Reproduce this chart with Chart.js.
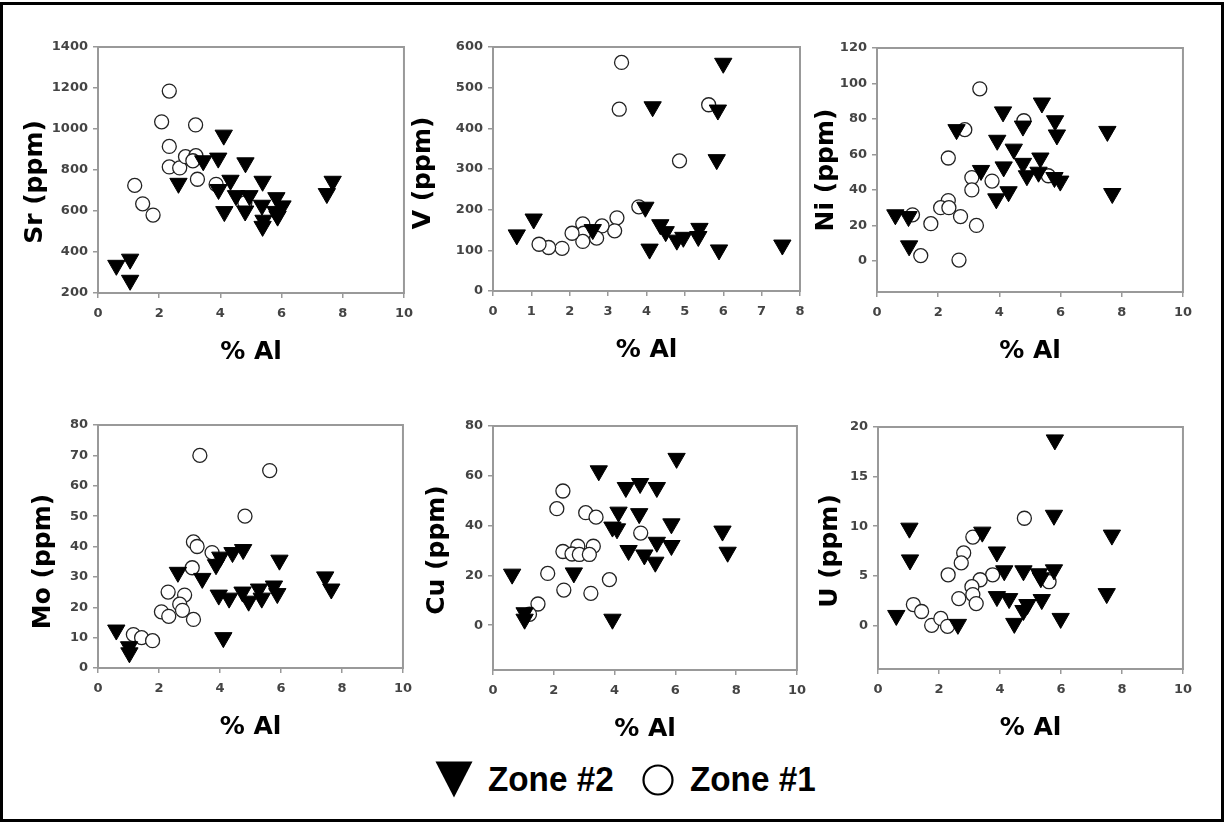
<!DOCTYPE html>
<html>
<head>
<meta charset="utf-8">
<title>Zone #1 / Zone #2 vs % Al</title>
<script src="https://cdn.jsdelivr.net/npm/chart.js@4.4.0/dist/chart.umd.min.js"></script>
<style>
  body { margin: 0; background: #fff; width: 1225px; height: 823px; overflow: hidden; position: relative; }
  #frame { position: absolute; left: 0; top: 2px; width: 1224px; height: 820px; border: 3px solid #000; box-sizing: border-box; }
  canvas { position: absolute; }
  .key { position: absolute; }
  .key span { position: absolute; white-space: nowrap; font: bold 35px 'Liberation Sans', Arial, sans-serif; color: #000; transform: scaleX(0.95); transform-origin: left center; line-height: 40px; }
</style>
</head>
<body>
<div id="frame"></div>

<canvas id="srChart"></canvas>
<canvas id="vChart"></canvas>
<canvas id="niChart"></canvas>
<canvas id="moChart"></canvas>
<canvas id="cuChart"></canvas>
<canvas id="uChart"></canvas>

<div class="key" style="left:435px; top:761px;">
  <svg width="38" height="37" style="position:absolute; left:0; top:0;"><polygon points="0.5,0.5 37.5,0.5 19,36.5" fill="#000"/></svg>
  <span style="left:53px; top:-2px;">Zone #2</span>
</div>
<div class="key" style="left:642px; top:764px;">
  <svg width="33" height="33" style="position:absolute; left:0; top:0;"><circle cx="16" cy="16" r="14.5" fill="#fff" stroke="#000" stroke-width="2.2"/></svg>
  <span style="left:48px; top:-5px;">Zone #1</span>
</div>

<script>
// [% Al, ppm] pairs, Zone #2 = filled triangles, Zone #1 = open circles
const srZone2 = [[0.6,335],[1.05,365],[1.05,262],[2.63,735],[3.44,845],[3.93,858],[4.11,970],[3.94,705],[4.13,597],[4.33,750],
  [4.51,675],[4.82,835],[4.95,675],[4.81,600],[5.38,745],[5.36,628],[5.41,555],[5.38,525],[5.83,665],[5.87,575],[6.03,625],
  [5.8,598],[7.48,685],[7.67,745]];
const srZone1 = [[2.33,1185],[2.08,1035],[3.19,1020],[2.33,915],[2.33,815],[2.67,810],[2.86,865],[3.2,870],[3.1,845],
  [3.25,755],[3.86,730],[1.2,725],[1.46,635],[1.8,580],[4.8,640]];

const vZone2 = [[0.62,138],[1.06,177],[2.6,151],[3.97,206],[4.16,453],[4.08,103],[4.36,163],[4.5,146],[4.79,125],[4.96,132],
  [5.38,154],[5.35,134],[5.83,323],[5.86,445],[6.0,560],[5.89,101],[7.54,113]];
const vZone1 = [[3.35,562],[3.29,447],[5.62,458],[4.86,320],[3.8,207],[3.23,180],[3.17,148],[2.84,160],[2.7,130],[2.34,165],
  [2.36,142],[2.34,122],[2.06,142],[1.8,105],[1.45,107],[1.2,115]];

const niZone2 = [[0.6,26],[1.03,25],[1.05,8.5],[2.6,74],[3.4,51],[3.93,68],[3.9,35],[4.12,84],[4.14,53],[4.3,39],[4.47,63],
  [4.77,76],[4.77,55],[4.9,48],[5.39,89],[5.34,58],[5.28,50],[5.82,79],[5.88,71],[5.8,47],[5.99,45],[7.53,73],[7.69,38]];
const niZone1 = [[3.36,97],[2.87,74],[2.33,58],[4.8,79],[3.1,47],[3.1,40],[3.76,45],[5.6,48],[2.33,34],[2.08,30],[2.35,30],
  [2.73,25],[3.25,20],[1.76,21],[1.16,26],[1.43,3],[2.68,0.5]];

const moZone2 = [[0.6,12.5],[1.02,7],[1.03,5],[2.62,31.5],[3.42,29.5],[3.87,34],[4.01,36.5],[3.96,24],[4.11,10],[4.3,23],
  [4.41,38],[4.76,39],[4.74,25],[4.94,22],[5.28,26],[5.37,23],[5.77,27],[5.88,24.5],[5.95,35.5],[7.45,30],[7.65,26]];
const moZone1 = [[3.34,70],[5.63,65],[4.82,50],[3.13,41.5],[3.25,40],[3.74,38],[3.09,33],[2.3,25],[2.84,24],[2.68,21],
  [2.08,18.5],[2.32,17],[2.77,19],[3.13,16],[1.16,11],[1.43,10],[1.79,9]];

const cuZone2 = [[0.63,20.5],[1.04,5],[1.04,2.4],[2.66,21],[3.48,62],[3.93,2.4],[3.93,39.4],[4.08,38.7],[4.13,45.4],[4.37,55.3],
  [4.46,30],[4.84,56.9],[4.81,44.8],[4.98,28.2],[5.39,55.3],[5.39,33.3],[5.34,25.3],[5.87,40.7],[5.87,32],[6.04,67],[7.55,37.8],
  [7.72,29.3]];
const cuZone1 = [[2.3,53.9],[2.1,46.8],[3.05,45.2],[3.39,43.4],[4.86,37],[2.3,29.6],[2.79,31.7],[3.3,31.7],[2.6,28.6],
  [2.84,28.4],[3.17,28.4],[1.8,20.8],[3.83,18.3],[2.33,14.1],[3.22,12.8],[1.48,8.5],[1.2,4.4]];

const uZone2 = [[0.6,1],[1.03,9.8],[1.05,6.6],[2.62,0.1],[3.42,9.4],[3.9,7.4],[3.9,2.9],[4.14,5.5],[4.3,2.7],[4.47,0.2],
  [4.77,5.5],[4.77,1.5],[4.9,2.1],[5.28,5.2],[5.34,4.8],[5.37,2.6],[5.77,5.6],[5.8,18.7],[5.77,11.1],[5.99,0.7],[7.5,3.2],
  [7.67,9.1]];
const uZone1 = [[4.8,10.8],[3.11,8.9],[2.81,7.3],[2.73,6.3],[2.3,5.1],[3.76,5.1],[3.35,4.6],[3.08,3.9],[3.11,3.1],[3.22,2.2],
  [2.65,2.7],[5.61,4.4],[1.16,2.1],[1.43,1.4],[1.76,0],[2.06,0.7],[2.28,-0.1]];

const xTitle = '% Al';
const zoneLabels = ['Zone #2', 'Zone #1'];

// plot-area box of each panel (left, top, right, bottom) and its axes
const panels = [
  { id: 'srChart', title: 'Sr (ppm)', box: [98, 47, 406, 293], xMax: 10, xStep: 2, yMin: 200, yMax: 1400, yStep: 200, titleGap: 63, titleShift: 12, zone2: srZone2, zone1: srZone1 },
  { id: 'vChart',  title: 'V (ppm)',  box: [493, 47, 800, 291], xMax: 8, xStep: 1, yMin: 0, yMax: 600, yStep: 100, titleGap: 70, titleShift: 4, zone2: vZone2, zone1: vZone1 },
  { id: 'niChart', title: 'Ni (ppm)', box: [877, 48, 1185, 292], xMax: 10, xStep: 2, yMin: -17.5, yMax: 120, yStep: 20, titleGap: 51, titleShift: 0, zone2: niZone2, zone1: niZone1 },
  { id: 'moChart', title: 'Mo (ppm)', box: [98, 425, 405, 668], xMax: 10, xStep: 2, yMin: 0, yMax: 80, yStep: 10, titleGap: 55, titleShift: 15, zone2: moZone2, zone1: moZone1 },
  { id: 'cuChart', title: 'Cu (ppm)', box: [493, 426, 799, 670], xMax: 10, xStep: 2, yMin: -18, yMax: 80, yStep: 20, titleGap: 56, titleShift: 2, zone2: cuZone2, zone1: cuZone1 },
  { id: 'uChart',  title: 'U (ppm)',  box: [878, 427, 1185, 669], xMax: 10, xStep: 2, yMin: -4.4, yMax: 20, yStep: 5, titleGap: 48, titleShift: 3, zone2: uZone2, zone1: uZone1 }
];

const AXIS_W = 90, AXIS_H = 75, PAD = 15;
const grey = '#999';
const titleFont = { family: "'DejaVu Sans', sans-serif", size: 25, weight: 'bold', lineHeight: 1.2 };
const tickFont = { family: "'DejaVu Sans', sans-serif", size: 13, weight: 'bold' };

const plotFrame = {
  id: 'plotFrame',
  beforeDatasetsDraw(chart) {
    const { ctx, chartArea: a } = chart;
    ctx.save();
    ctx.strokeStyle = grey;
    ctx.lineWidth = 2;
    ctx.strokeRect(a.left, a.top, a.right - a.left, a.bottom - a.top);
    ctx.restore();
  }
};

// rotated y title, placed a fixed distance left of the plot area
const yTitle = {
  id: 'yTitle',
  afterDraw(chart, args, opts) {
    const { ctx, chartArea: a } = chart;
    ctx.save();
    ctx.translate(a.left - opts.gap, (a.top + a.bottom) / 2 + opts.shift);
    ctx.rotate(-Math.PI / 2);
    ctx.font = `${titleFont.weight} ${titleFont.size}px ${titleFont.family}`;
    ctx.fillStyle = '#000';
    ctx.textAlign = 'center';
    ctx.textBaseline = 'middle';
    ctx.fillText(opts.text, 0, 0);
    ctx.restore();
  }
};

// ticks only from 0 upward (axis may start below 0)
function stepTicks(from, to, step) {
  const t = [];
  for (let v = from; v <= to + 1e-9; v += step) t.push({ value: v });
  return t;
}

function toPoints(pairs) {
  return pairs.map(p => ({ x: p[0], y: p[1] }));
}

function drawPanel(p) {
  const [l, t, r, b] = p.box;
  const canvas = document.getElementById(p.id);
  canvas.width = r - l + AXIS_W + PAD;
  canvas.height = b - t + AXIS_H + PAD;
  canvas.style.left = (l - AXIS_W) + 'px';
  canvas.style.top = (t - PAD) + 'px';

  const plain = v => String(v);

  new Chart(canvas.getContext('2d'), {
    type: 'scatter',
    data: {
      datasets: [{
        label: zoneLabels[0],
        data: toPoints(p.zone2),
        pointStyle: 'triangle',
        pointRotation: 180,
        pointRadius: 10,
        pointBackgroundColor: '#000',
        pointBorderColor: '#000',
        pointBorderWidth: 1,
        clip: false
      }, {
        label: zoneLabels[1],
        data: toPoints(p.zone1),
        pointStyle: 'circle',
        pointRadius: 7,
        pointBackgroundColor: '#fff',
        pointBorderColor: '#222',
        pointBorderWidth: 1.3,
        clip: false
      }]
    },
    options: {
      responsive: false,
      animation: false,
      layout: { padding: { left: 0, top: PAD, right: PAD, bottom: 0 } },
      plugins: {
        legend: { display: false },
        tooltip: { enabled: false },
        yTitle: { text: p.title, gap: p.titleGap, shift: p.titleShift }
      },
      scales: {
        x: {
          min: 0, max: p.xMax,
          afterFit: s => { s.height = AXIS_H; },
          afterBuildTicks: s => { s.ticks = stepTicks(0, p.xMax, p.xStep); },
          border: { color: grey, width: 2 },
          grid: { drawOnChartArea: false, tickLength: 5, color: grey, lineWidth: 1.5 },
          ticks: { color: '#444', font: tickFont, padding: 8, maxRotation: 0, callback: plain },
          title: { display: true, text: xTitle, color: '#000', font: titleFont, padding: { top: 0, bottom: 1 } }
        },
        y: {
          min: p.yMin, max: p.yMax,
          afterFit: s => { s.width = AXIS_W; },
          afterBuildTicks: s => { s.ticks = stepTicks(Math.max(p.yMin, 0), p.yMax, p.yStep); },
          border: { color: grey, width: 2 },
          grid: { drawOnChartArea: false, tickLength: 5, color: grey, lineWidth: 1.5 },
          ticks: { color: '#444', font: tickFont, padding: 5, callback: plain }
        }
      }
    },
    plugins: [plotFrame, yTitle]
  });
}

panels.forEach(drawPanel);
</script>
</body>
</html>
